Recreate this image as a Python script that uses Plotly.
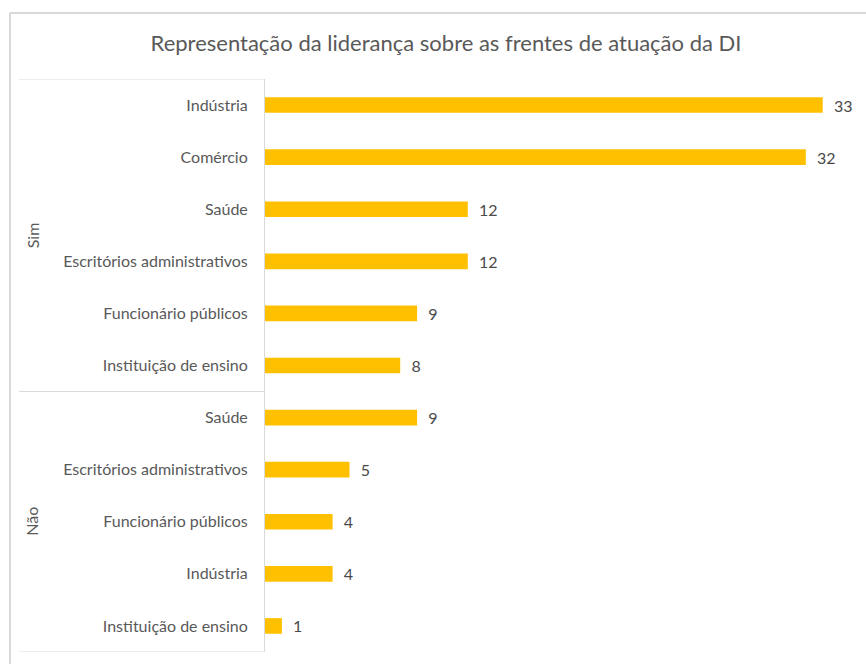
import plotly.graph_objects as go

# Chart data: leadership answer group, sector, count
groups = ["Sim", "Sim", "Sim", "Sim", "Sim", "Sim",
          "Não", "Não", "Não", "Não", "Não"]
sectors = ["Indústria", "Comércio", "Saúde", "Escritórios administrativos",
           "Funcionário públicos", "Instituição de ensino",
           "Saúde", "Escritórios administrativos", "Funcionário públicos",
           "Indústria", "Instituição de ensino"]
counts = [33, 32, 12, 12, 9, 8, 9, 5, 4, 4, 1]
group_names = ["Sim", "Não"]
title_text = "Representação da liderança sobre as frentes de atuação da DI"

W, H = 866, 664
L, R, T, B = 265, 25, 79, 12
plot_w = W - L - R
plot_h = H - T - B

FONT = "Lato, Carlito, Calibri, sans-serif"
GRID = "#d9d9d9"
TXT = "#595959"

rows = list(range(len(sectors)))

fig = go.Figure(go.Bar(
    x=counts,
    y=rows,
    orientation="h",
    marker=dict(color="#FFC000", line=dict(width=0)),
    width=0.3,
    text=counts,
    texttemplate="  %{x}",
    textposition="outside",
    constraintext="none",
    textfont=dict(family=FONT, size=16, color="#4a4a4a"),
    cliponaxis=False,
    hoverinfo="skip",
))

def px_to_paper_x(px):
    return (px - L) / plot_w

def px_to_paper_y(py):
    return 1 - (py - T) / plot_h

shapes = []
# category-group divider lines (top, between groups, bottom)
n_first = groups.count(group_names[0])
for yv in [-0.5, n_first - 0.5, len(rows) - 0.5]:
    shapes.append(dict(type="line", xref="paper", yref="y",
                       x0=px_to_paper_x(19), x1=0, y0=yv, y1=yv,
                       line=dict(color=GRID, width=1)))
# outer chart border (top and left edges)
shapes.append(dict(type="line", xref="paper", yref="paper",
                   x0=px_to_paper_x(10), x1=px_to_paper_x(W + 5),
                   y0=px_to_paper_y(13), y1=px_to_paper_y(13),
                   line=dict(color=GRID, width=2)))
shapes.append(dict(type="line", xref="paper", yref="paper",
                   x0=px_to_paper_x(10), x1=px_to_paper_x(10),
                   y0=px_to_paper_y(13), y1=px_to_paper_y(H + 5),
                   line=dict(color=GRID, width=2)))

annotations = []
# rotated group labels, centred on their rows
for g in group_names:
    idx = [i for i, gg in enumerate(groups) if gg == g]
    annotations.append(dict(
        text=g, textangle=-90, xref="paper", yref="y",
        x=px_to_paper_x(32), y=(idx[0] + idx[-1]) / 2,
        showarrow=False, xanchor="center", yanchor="middle",
        font=dict(family=FONT, size=16, color=TXT)))

fig.update_layout(
    width=W, height=H,
    margin=dict(l=L, r=R, t=T, b=B),
    paper_bgcolor="white", plot_bgcolor="white",
    showlegend=False,
    title=dict(text=title_text, x=446 / W, xref="container",
               xanchor="center", y=1 - 43 / H, yanchor="middle",
               font=dict(family=FONT, size=22, color=TXT)),
    xaxis=dict(range=[0, plot_w / 16.9], visible=False, fixedrange=True),
    yaxis=dict(
        range=[len(rows) - 0.5, -0.5],
        tickmode="array", tickvals=rows, ticktext=sectors,
        showgrid=False, zeroline=False,
        showline=True, linecolor=GRID, linewidth=1,
        ticks="", ticklabelstandoff=13,
        tickfont=dict(family=FONT, size=16, color=TXT),
        fixedrange=True,
    ),
    shapes=shapes,
    annotations=annotations,
)

fig.write_html("out.html")
